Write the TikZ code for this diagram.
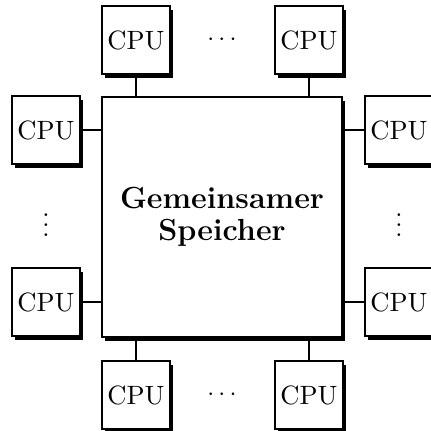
\documentclass[tikz,border=0pt]{standalone}
\usetikzlibrary{shadows}
\begin{document}
\begin{tikzpicture}[x=0.4pt,y=-0.4pt,
  shadowed/.style={draw, line width=0.5pt, fill=white, inner sep=0pt,
    drop shadow={shadow xshift=1.2pt, shadow yshift=-1.6pt, fill=black, opacity=1}},
  cpubox/.style={shadowed, minimum size=27.2pt, font=\fontsize{10.6}{12}\selectfont},
  membox/.style={shadowed, minimum size=96pt, align=center,
    font=\fontsize{12.2}{12.6}\selectfont\bfseries},
  dotsnode/.style={inner sep=0pt, font=\fontsize{10.4}{12}\selectfont},
  link/.style={line width=0.5pt}]
\useasboundingbox (0,0) rectangle (431,431);
\node[membox] (mem) at (222,217) {Gemeinsamer\\Speicher};
\node[cpubox] (t1) at (136,40) {CPU};
\node[cpubox] (t2) at (309,40) {CPU};
\node[cpubox] (b1) at (136,395) {CPU};
\node[cpubox] (b2) at (309,395) {CPU};
\node[cpubox] (l1) at (46,130) {CPU};
\node[cpubox] (l2) at (46,302) {CPU};
\node[cpubox] (r1) at (399,130) {CPU};
\node[cpubox] (r2) at (399,302) {CPU};
\node[dotsnode] (td) at (222,40) {$\cdots$};
\node[dotsnode] (bd) at (222,395) {$\cdots$};
\node[dotsnode] (ld) at (46,218) {$\vdots$};
\node[dotsnode] (rd) at (399,218) {$\vdots$};
\draw[link] (t1.south) -- (t1.south |- mem.north);
\draw[link] (t2.south) -- (t2.south |- mem.north);
\draw[link] (b1.north) -- (b1.north |- mem.south);
\draw[link] (b2.north) -- (b2.north |- mem.south);
\draw[link] (l1.east) -- (l1.east -| mem.west);
\draw[link] (l2.east) -- (l2.east -| mem.west);
\draw[link] (r1.west) -- (r1.west -| mem.east);
\draw[link] (r2.west) -- (r2.west -| mem.east);
\end{tikzpicture}
\end{document}
